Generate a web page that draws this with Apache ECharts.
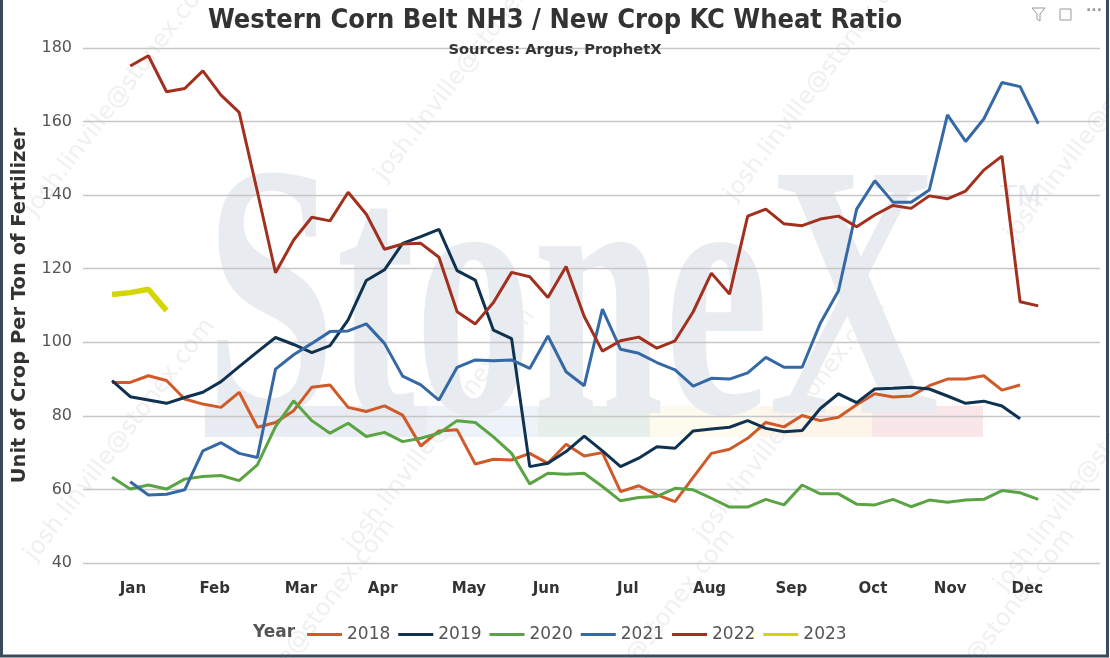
<!DOCTYPE html>
<html>
<head>
<meta charset="utf-8">
<script src="https://cdn.jsdelivr.net/npm/echarts@6/dist/echarts.min.js"></script>
<style>
  html, body { margin: 0; padding: 0; background: #fff; }
  #chart { width: 1110px; height: 658px; }
</style>
</head>
<body>
<div id="chart"></div>
<script>
// ── weekly ratio readings, index = week of year (0-based) ──
const years = ["2018", "2019", "2020", "2021", "2022", "2023"];
const colors = ["#cf5a2a", "#0f3250", "#5ba444", "#3569a6", "#a2301f", "#d3d600"];

const v2018 = [89.1, 89.1, 90.9, 89.6, 84.6, 83.2, 82.3, 86.4, 76.9, 78.2, 81.4, 87.8, 88.4, 82.3, 81.2,
  82.7, 80.2, 71.8, 75.9, 76.2, 66.9, 68.2, 68.0, 69.8, 67.1, 72.3, 69.1, 70.0, 59.4, 61.0, 58.5, 56.7,
  63.3, 69.8, 70.9, 73.9, 78.2, 77.0, 80.1, 78.7, 79.6, 83.0, 86.0, 85.1, 85.4, 88.2, 90.0, 90.0, 90.9,
  87.0, 88.4];
const v2019 = [89.6, 85.2, 84.3, 83.4, 85.0, 86.4, 89.3, 93.4, 97.4, 101.3, 99.4, 97.2, 99.1, 106.1, 116.8,
  119.7, 126.9, 128.7, 130.7, 119.5, 116.9, 103.3, 101.0, 66.2, 67.1, 70.3, 74.5, 70.5, 66.2, 68.5, 71.6,
  71.2, 75.9, 76.4, 76.9, 78.7, 76.6, 75.7, 76.0, 82.0, 86.0, 83.6, 87.3, 87.5, 87.8, 87.3, 85.4, 83.4,
  84.0, 82.7, 79.2];
const v2020 = [63.3, 60.1, 61.2, 60.1, 62.8, 63.5, 63.8, 62.4, 66.7, 77.1, 84.1, 78.7, 75.3, 78.0, 74.4,
  75.5, 73.0, 73.9, 75.3, 78.7, 78.2, 74.3, 69.8, 61.5, 64.4, 64.1, 64.4, 60.8, 56.9, 57.8, 58.1, 60.3,
  59.9, 57.6, 55.2, 55.2, 57.3, 55.8, 61.2, 58.8, 58.8, 56.0, 55.8, 57.3, 55.3, 57.1, 56.5, 57.1, 57.3,
  59.7, 59.1, 57.3];
const v2021 = [null, 62.1, 58.5, 58.7, 59.9, 70.5, 72.7, 69.8, 68.7, 92.7, 96.6, 99.7, 102.9, 103.1, 105.0,
  99.7, 90.8, 88.4, 84.3, 93.2, 95.2, 95.0, 95.2, 92.9, 101.7, 92.0, 88.2, 109.0, 98.1, 97.0, 94.5, 92.5,
  88.1, 90.2, 90.0, 91.7, 95.9, 93.2, 93.2, 105.2, 114.0, 136.2, 143.9, 138.1, 138.1, 141.4, 161.8, 154.6,
  160.7, 170.6, 169.5, 159.4];
const v2022 = [null, 175.1, 177.9, 168.1, 169.0, 173.8, 167.2, 162.5, 141.0, 118.9, 127.8, 134.0, 133.0,
  140.8, 134.8, 125.3, 126.7, 126.9, 123.1, 108.3, 105.0, 110.8, 119.0, 117.8, 112.2, 120.6, 107.0, 97.6,
  100.4, 101.4, 98.4, 100.4, 108.3, 118.8, 113.1, 134.3, 136.2, 132.2, 131.7, 133.5, 134.3, 131.4, 134.6,
  137.2, 136.4, 139.8, 139.0, 141.1, 146.8, 150.6, 111.0, 109.9];
const v2023 = [113.0, 113.5, 114.4, 108.6];

const values = [v2018, v2019, v2020, v2021, v2022, v2023];

// ── month tick labels and the week they sit under ──
const months = ["Jan", "Feb", "Mar", "Apr", "May", "Jun", "Jul", "Aug", "Sep", "Oct", "Nov", "Dec"];
const monthWeeks = [1.15, 5.75, 10.4, 14.9, 19.6, 24.0, 28.4, 32.9, 37.4, 41.9, 46.1, 50.4];

const yMin = 40, yMax = 180, yStep = 20;
const xMin = -1.6, xMax = 54.4;

// quarter-week slots across the grid so month labels can sit off the week grid
const SLOTS = Math.round((xMax - xMin) * 4) + 1;
const monthSlots = new Array(SLOTS).fill("");
months.forEach((m, i) => { monthSlots[Math.round((monthWeeks[i] - xMin) * 4)] = m; });

const FONT = "DejaVu Sans";
const WM = "#e8ebf0";

// faint diagonal e-mail watermark
const mailMarks = [[120, 95], [470, 60], [820, 80], [1100, 120], [120, 440], [440, 430], [790, 420],
  [1090, 470], [300, 640], [640, 650], [980, 650]].map(([x, y]) => ({
  type: "text", x, y, rotation: 0.92, z: -9, silent: true,
  style: { text: "josh.linville@stonex.com", font: "24px " + FONT, fill: "#f0f0f0",
    align: "center", verticalAlign: "middle" },
}));

const bands = [["#e9edf3", 205, 222], ["#eef3f9", 427, 111], ["#e7efea", 538, 112],
  ["#fcfbee", 650, 110], ["#fdf5ea", 760, 112], ["#f8e6e8", 872, 111]].map(([c, x, w]) => ({
  type: "rect", z: -9, silent: true, shape: { x, y: 406, width: w, height: 31 }, style: { fill: c },
}));

const chart = echarts.init(document.getElementById("chart"), null, { renderer: "canvas" });
chart.setOption({
  backgroundColor: "#fff",
  animation: false,
  color: colors,
  title: {
    text: "Western Corn Belt NH3 / New Crop KC Wheat Ratio",
    subtext: "Sources: Argus, ProphetX",
    left: "center", top: 2, itemGap: 9,
    textStyle: { fontFamily: "DejaVu Sans Condensed", fontWeight: "bold", fontSize: 27, color: "#333" },
    subtextStyle: { fontFamily: FONT, fontWeight: "bold", fontSize: 14.7, color: "#333" },
  },
  grid: { left: 83, right: 10, top: 48, bottom: 95, containLabel: false, outerBoundsMode: "none" },
  legend: {
    left: 302, top: 621, icon: "rect", itemWidth: 35, itemHeight: 3, itemGap: 8,
    textStyle: { fontFamily: FONT, fontSize: 17, color: "#555" },
    data: years,
  },
  xAxis: [
    { type: "value", min: xMin, max: xMax, show: false },
    {
      type: "category", position: "bottom", data: monthSlots, boundaryGap: false,
      axisLine: { show: false }, axisTick: { show: false }, splitLine: { show: false },
      axisLabel: {
        interval: (i, v) => v !== "", margin: 19,
        fontFamily: FONT, fontWeight: "bold", fontSize: 15, color: "#333",
      },
    },
  ],
  yAxis: {
    type: "value", min: yMin, max: yMax, interval: yStep,
    name: "Unit of Crop Per Ton of Fertilizer", nameLocation: "middle", nameGap: 53,
    nameTextStyle: { fontFamily: FONT, fontWeight: "bold", fontSize: 19.5, color: "#333" },
    axisLine: { show: false }, axisTick: { show: false },
    axisLabel: { fontFamily: FONT, fontSize: 16, color: "#555", margin: 11 },
    splitLine: { lineStyle: { color: "#c6c6c6", width: 1.3 } },
  },
  graphic: [
    ...bands,
    {
      type: "text", x: 205, y: 319, z: -8, silent: true, scaleX: 0.65,
      style: { text: "StoneX", font: "bold 363px 'Liberation Serif'", fill: WM, verticalAlign: "middle" },
    },
    {
      type: "text", x: 1000, y: 199, z: -8, silent: true,
      style: { text: "TM", font: "28px " + FONT, fill: WM, verticalAlign: "middle" },
    },
    ...mailMarks,
    {
      type: "text", x: 253, y: 633, silent: true,
      style: { text: "Year", font: "bold 17px " + FONT, fill: "#555", verticalAlign: "middle" },
    },
    // header icons
    { type: "polyline", silent: true, shape: { points: [[1032, 8], [1045, 8], [1040, 14], [1040, 21], [1037, 19], [1037, 14], [1032, 8]] },
      style: { stroke: "#999", fill: null, lineWidth: 1 } },
    { type: "rect", silent: true, shape: { x: 1060, y: 9, width: 11, height: 11 }, style: { stroke: "#999", fill: null, lineWidth: 1 } },
    { type: "text", x: 1086, y: 11, silent: true, style: { text: "···", font: "bold 14px " + FONT, fill: "#999", verticalAlign: "middle" } },
    // frame
    { type: "rect", silent: true, shape: { x: 1.5, y: -10, width: 1106, height: 666 },
      style: { stroke: "#3a4b5e", fill: null, lineWidth: 3 } },
  ],
  series: years.map((y, k) => ({
    name: y, type: "line", xAxisIndex: 0, symbol: "none",
    lineStyle: { width: k === 5 ? 5.5 : 3, color: colors[k] },
    data: values[k].map((v, i) => [i, v]),
  })),
});
</script>
</body>
</html>
